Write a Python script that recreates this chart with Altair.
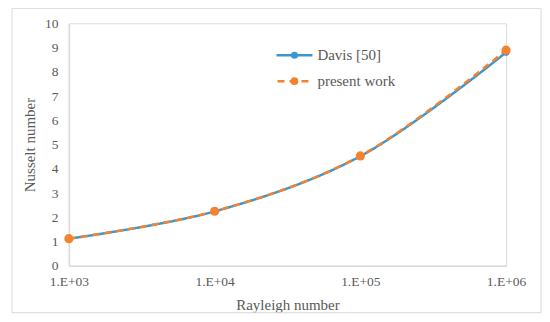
import altair as alt
import pandas as pd

ra = [1e3, 1e4, 1e5, 1e6]
davis = [1.118, 2.243, 4.519, 8.800]
present = [1.12, 2.25, 4.53, 8.89]
series_names = ["Davis [50]", "present work"]
x_ticks = [1e3, 1e4, 1e5, 1e6]
y_ticks = [0, 1, 2, 3, 4, 5, 6, 7, 8, 9, 10]

BLUE = "#3A97D1"
ORANGE = "#F5822F"
FONT = "Liberation Serif"
TXT = "#595959"

df = pd.DataFrame({
    "Ra": ra + ra,
    "Nu": davis + present,
    "series": [series_names[0]] * len(ra) + [series_names[1]] * len(ra),
})

xs = alt.Scale(type="log", domain=[1e3, 1e6], nice=False)
ys = alt.Scale(domain=[0, 10])

xax = alt.Axis(values=x_ticks, labelExpr="'1.E+0' + round(log(datum.value)/LN10)",
               title="Rayleigh number", grid=False, ticks=False, domainColor="#d9d9d9",
               domainWidth=1.5, labelPadding=9, titlePadding=9, labelFontSize=13.5,
               titleFontSize=15, labelFont=FONT, titleFont=FONT, labelColor=TXT,
               titleColor=TXT, titleFontWeight="normal", labelFlush=False, labelOverlap=False)
yax = alt.Axis(values=y_ticks, title="Nusselt number", grid=False, ticks=False,
               domainColor="#d9d9d9", domainWidth=1.5, labelPadding=11, titlePadding=7,
               labelFontSize=13.5, titleFontSize=15, labelFont=FONT, titleFont=FONT,
               labelColor=TXT, titleColor=TXT, titleFontWeight="normal", labelOverlap=False)

cscale = alt.Scale(domain=series_names, range=[BLUE, ORANGE])
dscale = alt.Scale(domain=series_names, range=[[1, 0], [7, 5]])
sscale = alt.Scale(domain=series_names, range=[50, 85])

base = alt.Chart(df).encode(
    x=alt.X("Ra:Q", scale=xs, axis=xax),
    y=alt.Y("Nu:Q", scale=ys, axis=yax),
    color=alt.Color("series:N", scale=cscale, legend=None),
)
lines = base.mark_line(strokeWidth=2.5, interpolate="catmull-rom").encode(
    strokeDash=alt.StrokeDash("series:N", scale=dscale, legend=None))
pts = base.mark_circle(opacity=1).encode(size=alt.Size("series:N", scale=sscale, legend=None))
data_layer = alt.layer(lines, pts)

one = pd.DataFrame({"k": [0]})
border = alt.Chart(one).mark_rect(fill=None, stroke="#d9d9d9", strokeWidth=1).encode(
    x=alt.value(-57), x2=alt.value(473), y=alt.value(-15), y2=alt.value(290))
leg_d_line = alt.Chart(one).mark_rule(color=BLUE, strokeWidth=2.5).encode(
    x=alt.value(208), x2=alt.value(244), y=alt.value(32))
leg_d_pt = alt.Chart(one).mark_circle(color=BLUE, size=50, opacity=1).encode(
    x=alt.value(226), y=alt.value(32))
leg_p_line = alt.Chart(one).mark_rule(color=ORANGE, strokeWidth=2.5, strokeDash=[7, 5], strokeDashOffset=-1).encode(
    x=alt.value(208), x2=alt.value(244), y=alt.value(58))
leg_p_pt = alt.Chart(one).mark_circle(color=ORANGE, size=60, opacity=1).encode(
    x=alt.value(226), y=alt.value(58))
leg_d_txt = alt.Chart(one).mark_text(text=series_names[0], align="left", baseline="middle",
    font=FONT, fontSize=15, color=TXT).encode(x=alt.value(249), y=alt.value(32))
leg_p_txt = alt.Chart(one).mark_text(text=series_names[1], align="left", baseline="middle",
    font=FONT, fontSize=15, color=TXT).encode(x=alt.value(249), y=alt.value(58))

chart = alt.layer(data_layer, border, leg_d_line, leg_d_pt, leg_p_line, leg_p_pt,
                  leg_d_txt, leg_p_txt).properties(
    width=438, height=243,
    autosize=alt.AutoSizeParams(type="none"),
    padding={"left": 61, "top": 15, "right": 36, "bottom": 48},
).configure_view(stroke=None).configure(background="white", font=FONT)

chart.save("out.html", embed_options={"renderer": "svg", "actions": False})
